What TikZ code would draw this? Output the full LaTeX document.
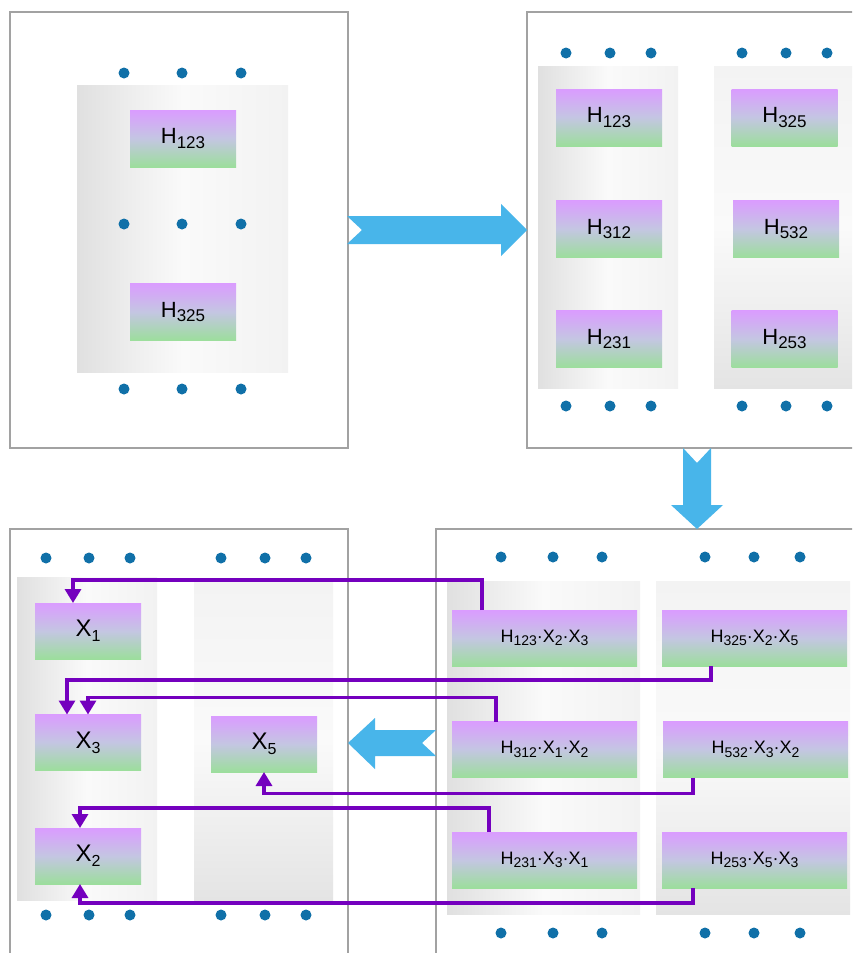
\documentclass[tikz,border=0pt]{standalone}
\usepackage{fontspec}
\setmainfont{Liberation Sans}
\usetikzlibrary{arrows.meta}

\definecolor{framegray}{RGB}{162,162,162}
\definecolor{dotblue}{RGB}{16,112,168}
\definecolor{flowblue}{RGB}{72,181,234}
\definecolor{linkpurple}{RGB}{116,0,190}
\definecolor{boxtop}{RGB}{218,156,255}
\definecolor{boxmid}{RGB}{196,198,226}
\definecolor{boxbot}{RGB}{156,222,156}
\definecolor{laneedge}{RGB}{224,224,224}
\definecolor{lanemid}{RGB}{250,250,250}
\definecolor{laneside}{RGB}{242,242,242}
\definecolor{lanetop}{RGB}{243,243,243}
\definecolor{lanebot}{RGB}{228,228,228}

\newcommand{\subsz}{17}
\newcommand{\ix}[1]{\raisebox{-0.2em}{\fontsize{\subsz}{\subsz}\selectfont #1}}

\begin{document}
\begin{tikzpicture}[x=1pt, y=-1pt,
  panel/.style={draw=framegray, line width=1.2pt, fill=white, outer sep=0pt,
                inner sep=0pt, minimum width=338, minimum height=436},
  lane/.style={inner sep=0pt, left color=laneedge, right color=laneside, middle color=lanemid},
  lanev/.style={inner sep=0pt, top color=lanetop, bottom color=lanebot, middle color=lanemid},
  hbox/.style={rectangle, inner sep=0pt, outer sep=0pt,
               top color=boxtop, bottom color=boxbot, middle color=boxmid,
               minimum width=106, minimum height=57,
               font=\fontsize{22}{26}\selectfont\def\subsz{17}},
  pbox/.style={hbox, minimum width=185, minimum height=56,
               font=\fontsize{18}{22}\selectfont\def\subsz{14}},
  xbox/.style={hbox, minimum height=56,
               font=\fontsize{24}{28}\selectfont\def\subsz{16}},
  bead/.style={circle, fill=dotblue, inner sep=0pt, minimum size=11},
  link/.style={draw=linkpurple, line width=3.3pt, -{Triangle[width=16pt,length=14pt]}},
  bigarrow/.style={fill=flowblue}
]
\useasboundingbox (0,0) rectangle (852,953);
\clip (0,0) rectangle (852,953);
\fill[white] (0,0) rectangle (852,953);

% four panels
\node[panel] (p1) at (179,230) {};
\node[panel, minimum width=340] (p2) at (697,230) {};
\node[panel, minimum width=522, minimum height=428] (p3) at (697,743) {};
\node[panel, minimum height=428] (p4) at (179,743) {};

% grey lanes
\node[lane, minimum width=211, minimum height=287] (l1) at (182.5,228.5) {};
\node[lane, minimum width=140, minimum height=322] (l2a) at (608,227) {};
\node[lanev, minimum width=140, minimum height=322] (l2b) at (784,227) {};
\node[lane, minimum width=193, minimum height=333] (l3a) at (543.5,747.5) {};
\node[lanev, minimum width=194, minimum height=333] (l3b) at (753,747.5) {};
\node[lane, minimum width=140, minimum height=323] (l4a) at (87,738.5) {};
\node[lanev, minimum width=139, minimum height=318] (l4b) at (263.5,741) {};

% panel 1
\node[hbox] (a1) at (183,138.5) {H\ix{123}};
\node[hbox] (a2) at (183,312) {H\ix{325}};

% panel 2
\node[hbox] (b1) at (609,117.5) {H\ix{123}};
\node[hbox] (b2) at (609,229) {H\ix{312}};
\node[hbox] (b3) at (609,339) {H\ix{231}};
\node[hbox] (b4) at (784.5,117.5) {H\ix{325}};
\node[hbox] (b5) at (786,229) {H\ix{532}};
\node[hbox] (b6) at (784.5,339) {H\ix{253}};

% panel 3
\node[pbox] (r1) at (544.5,638) {H\ix{123}·X\ix{2}·X\ix{3}};
\node[pbox] (r2) at (544.5,749.5) {H\ix{312}·X\ix{1}·X\ix{2}};
\node[pbox] (r3) at (544.5,860) {H\ix{231}·X\ix{3}·X\ix{1}};
\node[pbox] (s1) at (754.5,638) {H\ix{325}·X\ix{2}·X\ix{5}};
\node[pbox] (s2) at (755.5,749.5) {H\ix{532}·X\ix{3}·X\ix{2}};
\node[pbox] (s3) at (754.5,860) {H\ix{253}·X\ix{5}·X\ix{3}};

% panel 4
\node[xbox] (x1) at (88,631) {X\ix{1}};
\node[xbox] (x3) at (88,742.5) {X\ix{3}};
\node[xbox] (x2) at (88,856) {X\ix{2}};
\node[xbox] (x5) at (264,744) {X\ix{5}};

% dots
\foreach \x [count=\i] in {124,182,241}
  \foreach \y [count=\j] in {73,224,389}
    \node[bead] (d1-\i-\j) at (\x,\y) {};
\foreach \x [count=\i] in {566,610,651,742,786,827}
  \foreach \y [count=\j] in {53,406}
    \node[bead] (d2-\i-\j) at (\x,\y) {};
\foreach \x [count=\i] in {501,553,602,705,754,800}
  \foreach \y [count=\j] in {557,933}
    \node[bead] (d3-\i-\j) at (\x,\y) {};
\foreach \x [count=\i] in {46,89,130,221,265,306}
  \foreach \y [count=\j] in {558,915}
    \node[bead] (d4-\i-\j) at (\x,\y) {};

% links back to the X boxes
\draw[link] ([xshift=-62.5]r1.north) -- ++(0,-30) -| ([xshift=-15]x1.north);
\draw[link] ([xshift=-43.5]s1.south) -- ++(0,14) -| ([xshift=-21]x3.north);
\draw[link] ([xshift=-48.5]r2.north) -- ++(0,-24) -| (x3.north);
\draw[link] ([xshift=-62.5]s2.south) -- ++(0,16) -| (x5.south);
\draw[link] ([xshift=-55.5]r3.north) -- ++(0,-24) -| ([xshift=-8]x2.north);
\draw[link] ([xshift=-61.5]s3.south) -- ++(0,15) -| ([xshift=-8]x2.south);

% big arrows between panels
\fill[bigarrow] ([shift={(-1,-14)}]p1.east) -- ++(154,0) -- ++(0,-12) -- (p2.west)
  -- ++(-26,26) -- ++(0,-12) -- ++(-154,0) -- ++(15,-14) -- cycle;
\fill[bigarrow] ([shift={(-14,0)}]p2.south) -- ++(14,15) -- ++(14,-15) -- ++(0,57)
  -- ++(12,0) -- (p3.north) -- ++(-26,-24) -- ++(12,0) -- cycle;
\fill[bigarrow] ([shift={(0,-13)}]p3.west) -- ++(-61,0) -- ++(0,-12) -- (p4.east)
  -- ++(27,26) -- ++(0,-13) -- ++(61,0) -- ++(-14,-13) -- cycle;
\end{tikzpicture}
\end{document}
